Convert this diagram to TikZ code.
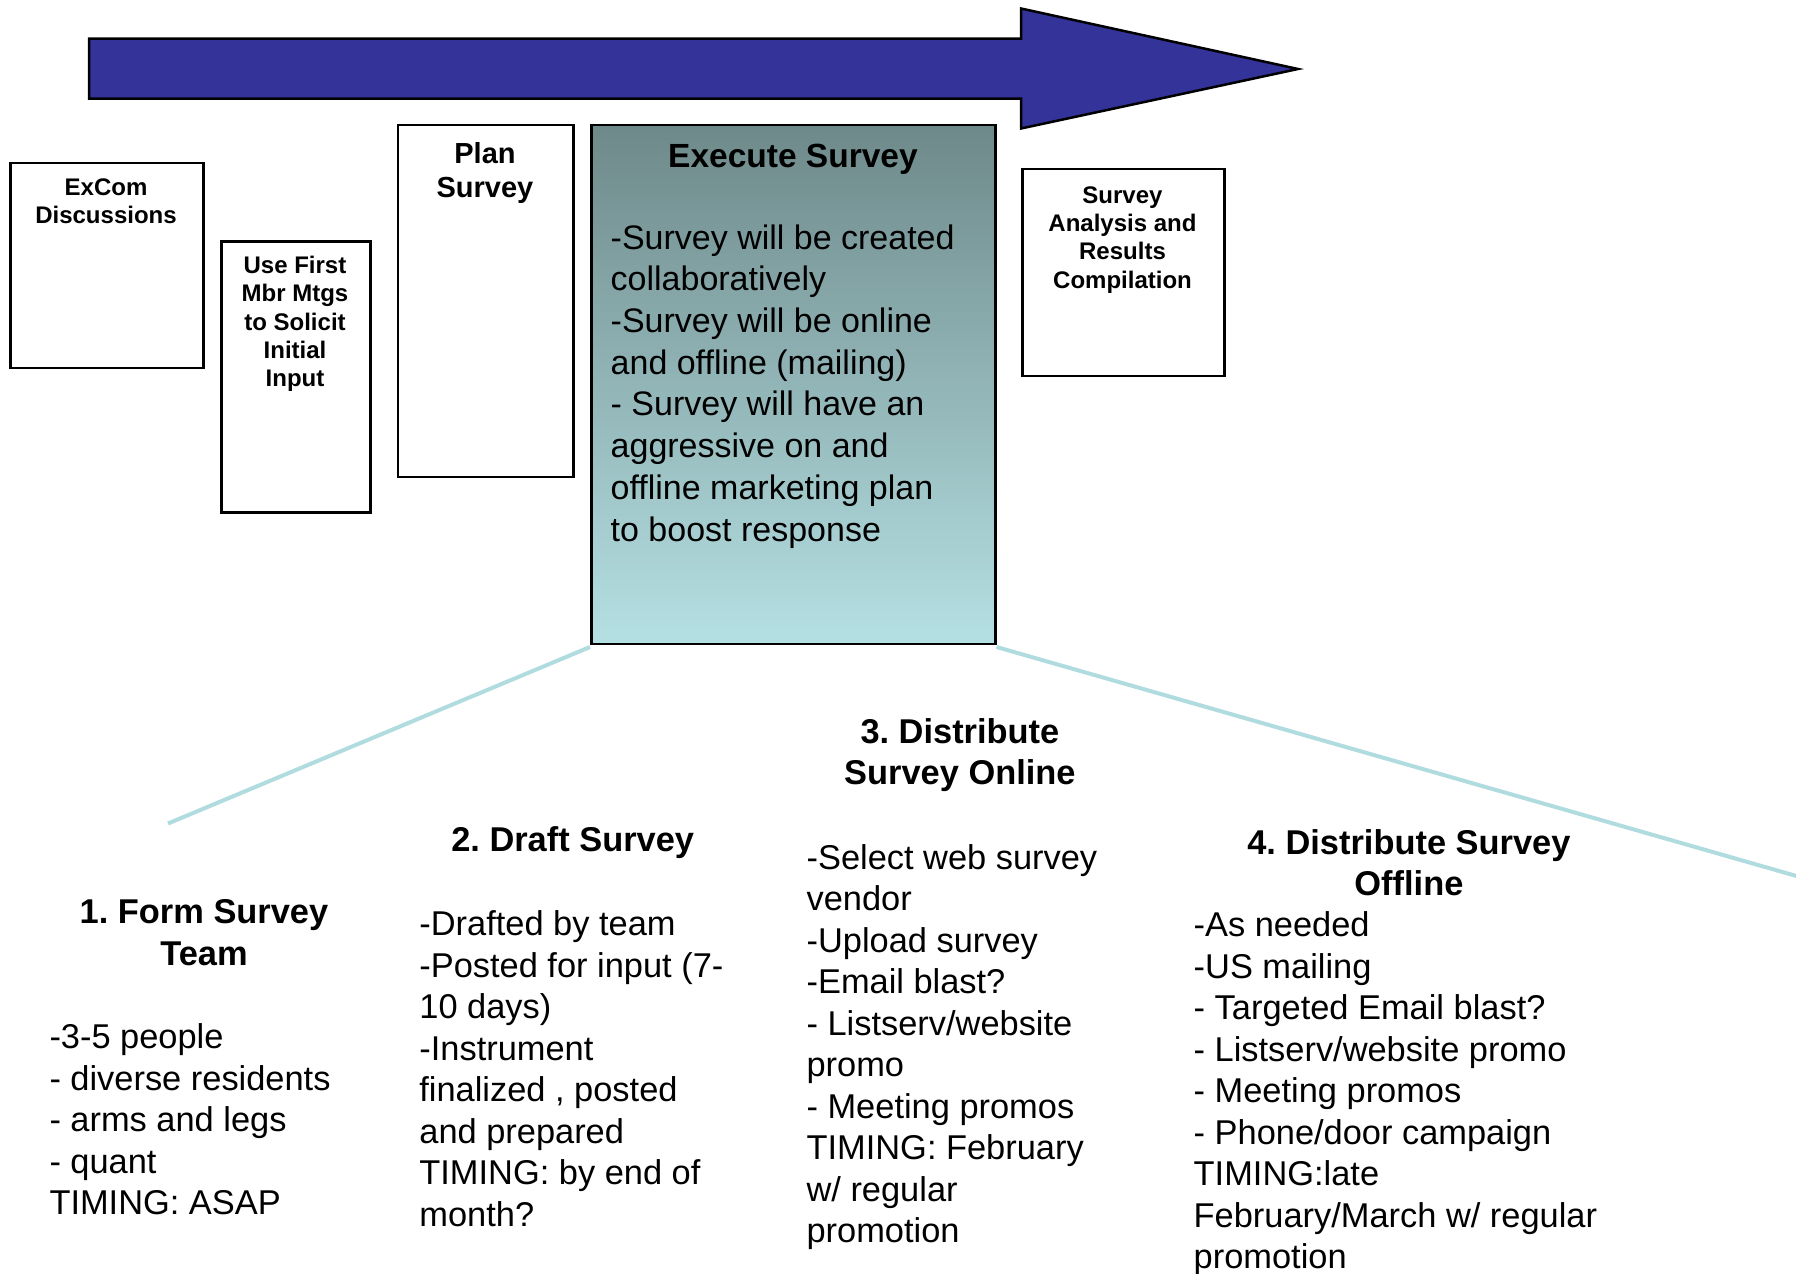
\documentclass[tikz,border=0pt]{standalone}
\usepackage{fontspec}
\setmainfont{Liberation Sans}
\definecolor{arrowblue}{HTML}{333399}
\definecolor{topteal}{HTML}{6E898A}
\definecolor{bottomteal}{HTML}{B5E0E3}
\definecolor{linkblue}{HTML}{B0DCDF}
\tikzset{
  box/.style={draw=black, line width=2.5pt, fill=white, inner sep=0pt, anchor=north west},
  smallbold/.style={inner sep=0pt, anchor=north, align=center, font=\frenchspacing\fontsize{24}{28.4}\selectfont\bfseries},
  headbold/.style={inner sep=0pt, anchor=north, align=center, font=\frenchspacing\fontsize{34.4}{41.5}\selectfont\bfseries},
  bodytext/.style={inner sep=0pt, anchor=north west, align=left, font=\frenchspacing\fontsize{34.4}{41.5}\selectfont},
  link/.style={draw=linkblue, line width=4pt},
}
\begin{document}
\frenchspacing
\begin{tikzpicture}[x=1pt,y=-1pt]
\useasboundingbox (0,0) rectangle (1796,1274);

% big arrow
\draw[fill=arrowblue, draw=black, line width=2.5pt, line join=miter]
  (89,38.5) -- (1021,38.5) -- (1021,8.5) -- (1298,69) -- (1021,128.5) -- (1021,98.5) -- (89,98.5) -- cycle;

% boxes
\node[box, minimum width=193pt, minimum height=205pt] (excom) at (9,161.5) {};
\node[box, minimum width=149pt, minimum height=271pt] (usefirst) at (220,240) {};
\node[box, minimum width=175.5pt, minimum height=352pt] (plan) at (396.5,123.5) {};
\node[box, minimum width=404pt, minimum height=519pt, top color=topteal, bottom color=bottomteal] (exec) at (590,123.5) {};
\node[box, minimum width=202pt, minimum height=207pt] (analysis) at (1021,167.5) {};

% box texts
\node[smallbold] (excomtxt) at (106,175.1) {\strut ExCom\\Discussions};
\node[smallbold] (usefirsttxt) at (295,253.3) {\strut Use First\\Mbr Mtgs\\to Solicit\\Initial\\Input};
\node[inner sep=0pt, anchor=north, align=center, font=\fontsize{29}{34}\selectfont\bfseries] (plantxt) at (485,139.7) {\strut Plan\\Survey};
\node[inner sep=0pt, anchor=base, font=\fontsize{33.5}{40}\selectfont\bfseries] (exectitle) at (793,167) {Execute Survey};
\node[inner sep=0pt, anchor=north west, align=left, font=\fontsize{34}{41.7}\selectfont] (execbody) at (610.5,219.8)
  {\strut -Survey will be created\\collaboratively\\-Survey will be online\\and offline (mailing)\\- Survey will have an\\aggressive on and\\offline marketing plan\\to boost response};
\node[smallbold] (analysistxt) at (1122.5,183.1) {\strut Survey\\Analysis and\\Results\\Compilation};

% connectors
\coordinate (lend) at (168,823.5);
\coordinate (rend) at (1800,877);
\draw[link] ([yshift=-2pt]exec.south west) -- (lend);
\draw[link] ([yshift=-2pt]exec.south east) -- (rend);

% bottom columns
\node[headbold] (h1) at (204,894.7) {\strut 1. Form Survey\\Team};
\node[bodytext] (b1) at (49.3,1019.7) {\strut -3-5 people\\- diverse residents\\- arms and legs\\- quant\\TIMING: ASAP};

\node[headbold] (h2) at (572.7,822.7) {\strut 2. Draft Survey};
\node[bodytext] (b2) at (419.2,906.3) {\strut -Drafted by team\\-Posted for input (7-\\10 days)\\-Instrument\\finalized , posted\\and prepared\\TIMING: by end of\\month?};

\node[headbold] (h3) at (959.9,713.9) {\strut 3. Distribute\\Survey Online};
\node[bodytext] (b3) at (806.4,839.9) {\strut -Select web survey\\vendor\\-Upload survey\\-Email blast?\\- Listserv/website\\promo\\- Meeting promos\\TIMING: February\\w/ regular\\promotion};

\node[headbold] (h4) at (1408.9,825) {\strut 4. Distribute Survey\\Offline};
\node[bodytext] (b4) at (1193.5,907.4) {\strut -As needed\\-US mailing\\- Targeted Email blast?\\- Listserv/website promo\\- Meeting promos\\- Phone/door campaign\\TIMING:late\\February/March w/ regular\\promotion};
\end{tikzpicture}
\end{document}
